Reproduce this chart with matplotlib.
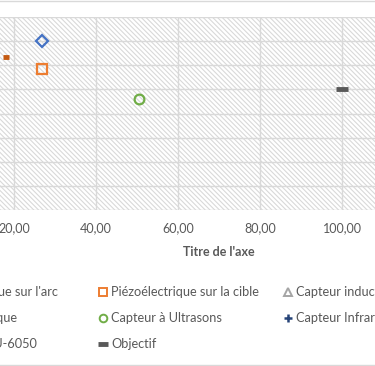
import matplotlib
matplotlib.use("Agg")
import matplotlib.pyplot as plt
from matplotlib.lines import Line2D
from matplotlib.patches import Rectangle
from matplotlib.ticker import FuncFormatter, MultipleLocator

plt.rcParams['font.family'] = ['Lato', 'DejaVu Sans']
plt.rcParams['hatch.linewidth'] = 0.8
plt.rcParams['hatch.color'] = '#d9d9d9'

# ---- data (x = "Titre de l'axe", y = vertical value) ----
series_names = ["Piézoélectrique sur l'arc", "Piézoélectrique sur la cible", "Capteur inductif",
                "Capteur optique", "Capteur à Ultrasons", "Capteur Infrarouge",
                "Capteur MPU-6050", "Objectif"]
arc_x, arc_y = [26.7], [7.0]
cible_x, cible_y = [26.7], [5.83]
inductif_x, inductif_y = [], []
optique_x, optique_y = [], []
ultrasons_x, ultrasons_y = [50.5], [4.6]
infrarouge_x, infrarouge_y = [], []
mpu_x, mpu_y = [17.9], [6.34]
objectif_x, objectif_y = [100.0], [5.0]
x_ticks = [0, 20, 40, 60, 80, 100, 120]

W, H = 375, 366
fig = plt.figure(figsize=(W / 100, H / 100), dpi=100)

# plot area (extends beyond the cropped figure on left/right)
px_left, px_right, px_top, px_bot = -67.6, 423.9, 17.0, 210.0
ax = fig.add_axes([px_left / W, (H - px_bot) / H, (px_right - px_left) / W, (px_bot - px_top) / H])
ax.set_xlim(0, 120)
ax.set_ylim(0, 8)
ax.patch.set_facecolor('white')
ax.add_patch(Rectangle((0, 0), 1, 1, transform=ax.transAxes, facecolor='white',
                       edgecolor='#d9d9d9', linewidth=0, hatch='\\' * 7, zorder=0))
ax.set_xticks(x_ticks)
ax.yaxis.set_major_locator(MultipleLocator(1))
ax.xaxis.set_major_formatter(FuncFormatter(lambda v, p: f"{v:.2f}".replace('.', ',')))
ax.tick_params(axis='x', length=0, pad=9, labelsize=9, labelcolor='#595959')
ax.tick_params(axis='y', length=0, labelleft=False)
ax.grid(True, color='#d9d9d9', linewidth=1.0, zorder=1)
ax.set_axisbelow(True)
for s in ax.spines.values():
    s.set_visible(False)

styles = [
    dict(marker='D', ms=6.5, mfc='none', mec='#4472C4', mew=1.6),
    dict(marker='s', ms=7, mfc='none', mec='#ED7D31', mew=1.6),
    dict(marker='^', ms=7, mfc='none', mec='#A5A5A5', mew=1.6),
    dict(marker='x', ms=6, mfc='none', mec='#FFC000', mew=1.6),
    dict(marker='o', ms=7, mfc='none', mec='#70AD47', mew=1.6),
    dict(marker='+', ms=7, mfc='none', mec='#264478', mew=2.0),
    dict(marker='_', ms=5, mfc='none', mec='#C55A11', mew=3.5),
    dict(marker='_', ms=8, mfc='none', mec='#595959', mew=3.5),
]
data = [(arc_x, arc_y), (cible_x, cible_y), (inductif_x, inductif_y), (optique_x, optique_y),
        (ultrasons_x, ultrasons_y), (infrarouge_x, infrarouge_y), (mpu_x, mpu_y), (objectif_x, objectif_y)]
for (xs, ys), st, name in zip(data, styles, series_names):
    ax.plot(xs, ys, linestyle='none', label=name, zorder=3, clip_on=True, **st)

ax.set_xlabel("Titre de l'axe", fontsize=9, fontweight='bold', color='#595959')
ax.xaxis.set_label_coords((219 - px_left) / (px_right - px_left), -(246 - px_bot) / (px_bot - px_top))

# legend (Excel style: uniform columns, filled row-wise)
col_marker_x = [-82, 103, 288]
row_y = [292, 318.3, 344]
for i, (name, st) in enumerate(zip(series_names, styles)):
    r, c = divmod(i, 3)
    mx = col_marker_x[c]
    st = dict(st)
    if st['marker'] == '_':
        st['ms'] = 7
    else:
        st['ms'] = 5.5
        st['mew'] = 1.4 if st['marker'] != '+' else 1.8
    fig.add_artist(Line2D([mx / W], [(H - row_y[r]) / H], transform=fig.transFigure, linestyle='none', **st))
    fig.text((mx + 8) / W, (H - row_y[r]) / H, name, fontsize=9.2, color='#595959', ha='left', va='center')

# chart-area border lines (top and bottom visible in the crop)
fig.add_artist(Line2D([0, 1], [1 - 0.6 / H, 1 - 0.6 / H], transform=fig.transFigure, color='#d9d9d9', lw=1))
fig.add_artist(Line2D([0, 1], [1.5 / H, 1.5 / H], transform=fig.transFigure, color='#d9d9d9', lw=1))

fig.savefig('out.png', dpi=100)
